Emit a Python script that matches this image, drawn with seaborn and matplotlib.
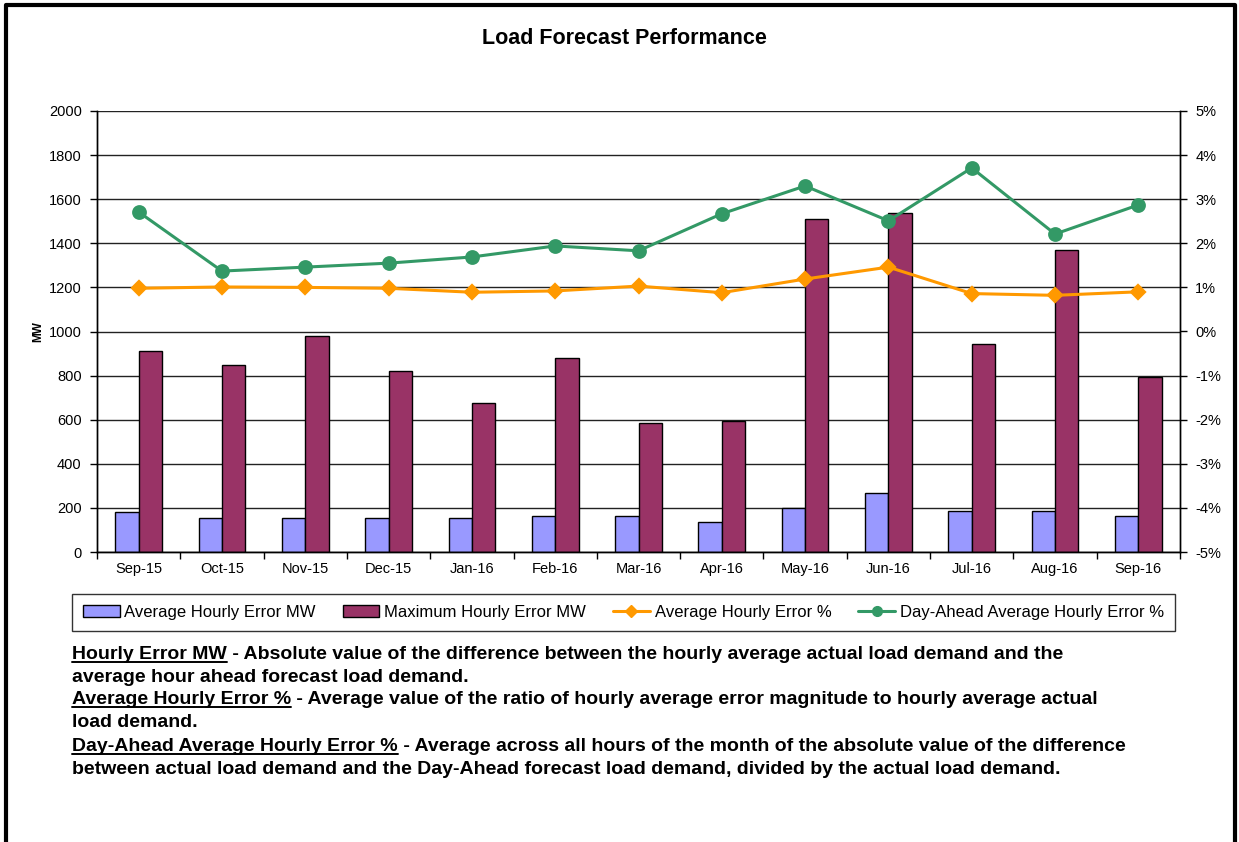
import pandas as pd
import seaborn as sns
import matplotlib.pyplot as plt
from matplotlib.lines import Line2D
from matplotlib.patches import Patch
from matplotlib.ticker import FuncFormatter, FixedLocator

# data
months = ['Sep-15', 'Oct-15', 'Nov-15', 'Dec-15', 'Jan-16', 'Feb-16', 'Mar-16',
          'Apr-16', 'May-16', 'Jun-16', 'Jul-16', 'Aug-16', 'Sep-16']
avg_mw = [180, 155, 155, 155, 155, 162, 162, 137, 198, 268, 188, 188, 162]
max_mw = [912, 850, 980, 820, 678, 880, 585, 593, 1512, 1537, 943, 1370, 795]
avg_pct = [0.98, 1.01, 1.00, 0.98, 0.89, 0.92, 1.03, 0.88, 1.19, 1.46, 0.86, 0.82, 0.90]
da_pct = [2.71, 1.37, 1.46, 1.55, 1.69, 1.94, 1.83, 2.67, 3.30, 2.51, 3.71, 2.21, 2.87]

df = pd.DataFrame({'month': months, 'Average Hourly Error MW': avg_mw,
                   'Maximum Hourly Error MW': max_mw,
                   'avg_pct': avg_pct, 'da_pct': da_pct})
df_bars = df.melt(id_vars='month', value_vars=['Average Hourly Error MW', 'Maximum Hourly Error MW'],
                  var_name='series', value_name='MW')

sns.set_style('white')
plt.rcParams['font.family'] = ['Liberation Sans', 'DejaVu Sans']
for k in ('text.color', 'axes.labelcolor', 'xtick.color', 'ytick.color'):
    plt.rcParams[k] = 'black'

W, H = 1239, 842
fig = plt.figure(figsize=(W / 100, H / 100), dpi=100)
ax = fig.add_axes([97 / W, 1 - 552 / H, (1180 - 97) / W, (552 - 111) / H])

bar_clr = ['#9999FF', '#993366']
sns.barplot(data=df_bars, x='month', y='MW', hue='series', order=months,
            palette=bar_clr, width=0.56, gap=0, edgecolor='black', linewidth=1,
            saturation=1, legend=False, ax=ax)

ax.set_ylim(0, 2000)
ax.set_yticks(range(0, 2001, 200))
ax.grid(axis='y', color='#222222', linewidth=1)
ax.set_axisbelow(True)
ax.set_xlabel('')
ax.set_ylabel('MW', fontsize=8.5, fontweight='bold')
ax.yaxis.set_label_coords((44 - 97) / (1180 - 97), 0.5)

ax2 = ax.twinx()
sns.pointplot(data=df, x='month', y='avg_pct', order=months, color='#FF9900',
              markers='D', markersize=7, linewidth=2.2, errorbar=None, ax=ax2)
sns.pointplot(data=df, x='month', y='da_pct', order=months, color='#339966',
              markers='o', markersize=9, linewidth=2.2, errorbar=None, ax=ax2)
ax2.set_ylim(-5, 5)
ax2.set_yticks(range(-5, 6))
ax2.yaxis.set_major_formatter(FuncFormatter(lambda v, p: '%d%%' % v))
ax2.set_ylabel('')
ax2.set_xlabel('')

for a in (ax, ax2):
    a.set_xlim(-0.5, len(months) - 0.5)
    a.spines['top'].set_visible(False)
    for s in ('left', 'right', 'bottom'):
        a.spines[s].set_color('black')
        a.spines[s].set_linewidth(1)

ax.tick_params(axis='y', which='major', direction='out', length=5, width=1,
               color='black', labelsize=10.5, pad=6, left=True)
ax2.tick_params(axis='y', which='major', direction='out', length=5, width=1,
                color='black', labelsize=10.5, pad=6, right=True)
ax.tick_params(axis='x', which='major', length=0, labelsize=10.5, pad=7)
ax.xaxis.set_minor_locator(FixedLocator([i - 0.5 for i in range(len(months) + 1)]))
ax.tick_params(axis='x', which='minor', direction='out', length=5, width=1,
               color='black', bottom=True)

fig.text(624 / W, 1 - 38 / H, 'Load Forecast Performance', ha='center', va='center',
         fontsize=15.5, fontweight='bold')

handles = [Patch(facecolor=bar_clr[0], edgecolor='black'),
           Patch(facecolor=bar_clr[1], edgecolor='black'),
           Line2D([], [], color='#FF9900', marker='D', markersize=6, linewidth=2.2),
           Line2D([], [], color='#339966', marker='o', markersize=7, linewidth=2.2)]
labels = ['Average Hourly Error MW', 'Maximum Hourly Error MW',
          'Average Hourly Error %', 'Day-Ahead Average Hourly Error %']
leg = fig.legend(handles, labels, ncol=4, loc='upper left', mode='expand',
                 bbox_to_anchor=(72 / W, 1 - 633 / H, (1175 - 72) / W, 39 / H),
                 frameon=True, fancybox=False, fontsize=12, handlelength=2.2,
                 handletextpad=0.3, columnspacing=1.0, borderaxespad=0,
                 borderpad=0.65)
leg.get_frame().set_edgecolor('black')
leg.get_frame().set_linewidth(1)

# definitions below the chart, heading underlined
notes = [
    ('Hourly Error MW', ' - Absolute value of the difference between the hourly average actual load demand and the',
     'average hour ahead forecast load demand.'),
    ('Average Hourly Error %', ' - Average value of the ratio of hourly average error magnitude to hourly average actual',
     'load demand.'),
    ('Day-Ahead Average Hourly Error %', ' - Average across all hours of the month of the absolute value of the difference',
     'between actual load demand and the Day-Ahead forecast load demand, divided by the actual load demand.'),
]
renderer = fig.canvas.get_renderer()
x0 = 72
baselines = [659, 682, 704, 727, 751, 774]
fs = 14
for i, (head, rest, line2) in enumerate(notes):
    y1 = 1 - baselines[2 * i] / H
    y2 = 1 - baselines[2 * i + 1] / H
    t = fig.text(x0 / W, y1, head, ha='left', va='baseline', fontsize=fs, fontweight='bold')
    bb = t.get_window_extent(renderer)
    fig.add_artist(Line2D([bb.x0 / W, bb.x1 / W], [y1 - 3 / H] * 2,
                          transform=fig.transFigure, color='black', linewidth=1.4))
    fig.text(bb.x1 / W, y1, rest, ha='left', va='baseline', fontsize=fs, fontweight='bold')
    fig.text(x0 / W, y2, line2, ha='left', va='baseline', fontsize=fs, fontweight='bold')

# outer frame
fig.add_artist(Line2D([6 / W, 6 / W, 1235 / W, 1235 / W], [0, 1 - 5 / H, 1 - 5 / H, 0],
                      transform=fig.transFigure, color='black', linewidth=3))

fig.savefig('out.png', dpi=100)
